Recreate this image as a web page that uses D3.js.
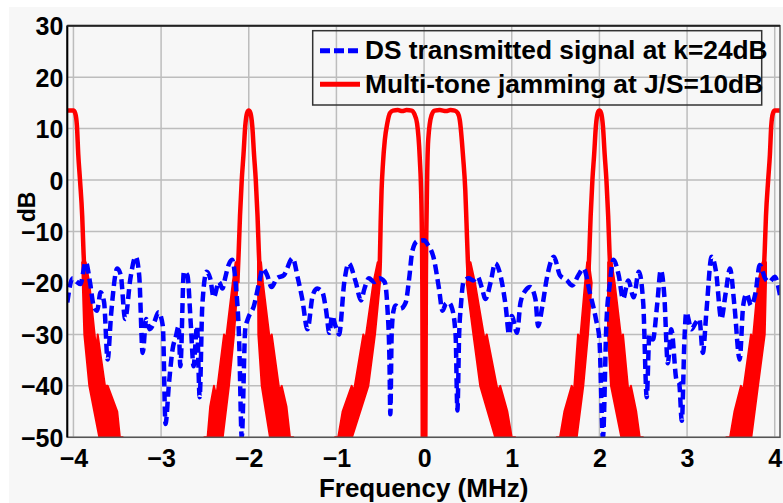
<!DOCTYPE html>
<html>
<head>
<meta charset="utf-8">
<script src="https://cdn.jsdelivr.net/npm/d3@7"></script>
<style>
  html, body { margin: 0; padding: 0; background: #ffffff; }
  svg { display: block; }
  text { font-family: "Liberation Sans", Arial, sans-serif; font-weight: bold; fill: #000; }
</style>
</head>
<body>
<svg id="chart" width="783" height="503"></svg>
<script>
// ---------------- DATA ----------------
const xTicks = [-4, -3, -2, -1, 0, 1, 2, 3, 4];
const yTicks = [-50, -40, -30, -20, -10, 0, 10, 20, 30];
const xLabel = "Frequency (MHz)";
const yLabel = "dB";
const seriesNames = ["DS transmitted signal at k=24dB", "Multi-tone jamming at J/S=10dB"];
const seriesColors = ["#0000ff", "#ff0000"];

// DS transmitted signal — [frequency MHz, dB]
const dsSignal = [
  [-4.07,-23.8],[-4.01,-19.1],[-3.96,-19.8],[-3.92,-20.2],[-3.86,-15.9],[-3.81,-20],[-3.77,-24.4],
  [-3.73,-25.4],[-3.69,-21.8],[-3.65,-23.8],[-3.61,-34.9],[-3.57,-26],[-3.50,-17.2],[-3.46,-18.5],
  [-3.41,-27],[-3.35,-19.1],[-3.29,-14.9],[-3.25,-18.5],[-3.21,-33.6],[-3.17,-27],[-3.13,-29],
  [-3.08,-27.7],[-3.03,-25.7],[-2.98,-28.4],[-2.95,-47.4],[-2.91,-39.5],[-2.87,-33],[-2.83,-30.3],
  [-2.80,-28.4],[-2.78,-36.2],[-2.74,-17.8],[-2.70,-18.5],[-2.66,-28.4],[-2.63,-36.2],[-2.59,-28.4],
  [-2.56,-42.2],[-2.53,-24.4],[-2.48,-17.8],[-2.44,-19.1],[-2.40,-22.8],[-2.34,-19.8],[-2.30,-21.1],
  [-2.27,-19.1],[-2.23,-16.5],[-2.19,-15.5],[-2.15,-20],[-2.11,-31],[-2.08,-50],[-2.04,-29],
  [-2.01,-27],[-1.94,-24.4],[-1.88,-19.8],[-1.84,-17.2],[-1.79,-18.5],[-1.74,-20.8],[-1.68,-19.1],
  [-1.60,-18.5],[-1.50,-15.2],[-1.44,-19.1],[-1.39,-23.1],[-1.33,-29],[-1.27,-22.4],[-1.22,-21.1],
  [-1.16,-21.8],[-1.12,-25.1],[-1.08,-29.7],[-1.05,-26.4],[-1.01,-28.4],[-0.97,-30],[-0.91,-19.8],
  [-0.86,-16.2],[-0.78,-19.8],[-0.72,-23.4],[-0.68,-21.1],[-0.63,-19.1],[-0.57,-19.8],[-0.51,-19.1],
  [-0.45,-19.8],[-0.42,-24.4],[-0.395,-35],[-0.385,-45.5],[-0.37,-30],[-0.35,-25.5],[-0.325,-24.4],
  [-0.27,-25],[-0.21,-23.8],[-0.17,-19.1],[-0.135,-13.9],[-0.08,-11.9],[0.0,-11.7],[0.04,-12.5],
  [0.11,-15.2],[0.17,-21.1],[0.21,-25.4],[0.25,-24],[0.28,-23.8],[0.32,-25],[0.36,-30.3],[0.38,-44.8],
  [0.40,-30],[0.42,-24.4],[0.45,-19.8],[0.51,-19.1],[0.56,-19.5],[0.61,-18.8],[0.66,-21],[0.70,-23.1],
  [0.76,-19.8],[0.81,-16.2],[0.86,-17.8],[0.93,-24.4],[0.97,-30],[1.0,-26.4],[1.06,-29.7],[1.10,-23.8],
  [1.16,-21.4],[1.21,-20.8],[1.27,-23.1],[1.30,-28.4],[1.35,-24.4],[1.40,-19.1],[1.48,-14.9],[1.55,-18.5],
  [1.63,-19.5],[1.69,-20.5],[1.76,-18.5],[1.82,-17.2],[1.89,-21.8],[1.96,-27],[2.0,-31],[2.04,-50],
  [2.08,-27.7],[2.12,-20],[2.16,-15.5],[2.22,-18.5],[2.27,-23.1],[2.33,-19.5],[2.39,-22.8],[2.45,-17.8],
  [2.50,-24],[2.54,-42.2],[2.57,-30],[2.61,-31],[2.66,-24],[2.70,-17.5],[2.74,-22.4],[2.78,-35.6],
  [2.82,-29],[2.88,-38.9],[2.91,-39.5],[2.94,-46.8],[2.97,-31],[2.99,-25.7],[3.05,-29],[3.10,-27.7],
  [3.14,-27],[3.18,-33.6],[3.22,-25.7],[3.28,-14.9],[3.33,-17.8],[3.39,-27],[3.44,-22],[3.49,-17.2],
  [3.54,-24.4],[3.60,-34.9],[3.64,-24.4],[3.68,-22.1],[3.73,-24.4],[3.78,-22],[3.83,-16.5],[3.89,-19.1],
  [3.94,-19.8],[4.00,-18.8],[4.06,-22.4]
];

// Multi-tone jamming main lobes — [frequency MHz, dB]; null separates lobes
const jamLine = [
  [-4.09,13.5],[-4.0,13.5],[-3.98,13],[-3.96,10.5],[-3.945,5],[-3.925,0],[-3.90,-7],[-3.885,-14],[-3.87,-20],
  null,
  [-2.13,-20],[-2.115,-14],[-2.10,-7],[-2.08,0],[-2.06,5],[-2.04,10.5],[-2.02,13],[-2.0,13.5],
  [-1.98,13],[-1.96,10.5],[-1.94,5],[-1.92,0],[-1.90,-7],[-1.885,-14],[-1.87,-20],
  null,
  [-0.52,-20],[-0.505,-16],[-0.495,-8],[-0.485,-2],[-0.47,3],[-0.448,7.8],[-0.42,11],[-0.39,13],
  [-0.355,13.5],[-0.30,13.6],[-0.25,13.4],[-0.20,13.6],[-0.14,13.5],[-0.11,12.8],[-0.08,11],[-0.05,4.5],
  [-0.03,-5],[-0.02,-21],[-0.012,-60],[0.012,-60],[0.02,-21],[0.03,-5],[0.047,7.8],[0.085,12.6],[0.12,13.5],
  [0.18,13.6],[0.25,13.4],[0.30,13.6],[0.35,13.5],[0.385,13],[0.407,11.7],[0.445,4.5],[0.47,-2],[0.484,-8.4],
  [0.5,-16],[0.515,-20],
  null,
  [1.87,-20],[1.885,-14],[1.90,-7],[1.92,0],[1.94,5],[1.96,10.5],[1.98,13],[2.0,13.5],
  [2.02,13],[2.04,10.5],[2.06,5],[2.08,0],[2.10,-7],[2.115,-14],[2.13,-20],
  null,
  [3.87,-20],[3.885,-14],[3.90,-7],[3.925,0],[3.945,5],[3.96,10.5],[3.98,13],[4.0,13.5],[4.09,13.5]
];

// Multi-tone jamming sidelobe skirts (outline of the dense sidelobe region) — [frequency MHz, dB]
const jamSkirts = [
  [[-3.90,-16],[-3.894,-20],[-3.876,-30],[-3.819,-40],[-3.705,-50],[-3.70,-55],[-3.43,-55],[-3.438,-50],[-3.47,-50],[-3.50,-45],[-3.609,-40],[-3.64,-40],[-3.723,-30],[-3.74,-33],[-3.819,-20],[-3.86,-16]],
  [[-2.12,-16],[-2.126,-20],[-2.168,-30],[-2.226,-40],[-2.297,-50],[-2.30,-55],[-2.51,-55],[-2.507,-50],[-2.47,-50],[-2.44,-44],[-2.397,-40],[-2.37,-42],[-2.282,-30],[-2.26,-31],[-2.183,-20],[-2.15,-16]],
  [[-1.895,-16],[-1.894,-20],[-1.891,-30],[-1.852,-40],[-1.758,-50],[-1.75,-55],[-1.49,-55],[-1.492,-50],[-1.53,-50],[-1.57,-44],[-1.624,-40],[-1.65,-41],[-1.738,-30],[-1.76,-31],[-1.838,-20],[-1.86,-16]],
  [[-0.50,-16],[-0.503,-20],[-0.560,-30],[-0.636,-40],[-0.822,-50],[-0.83,-55],[-1.02,-55],[-1.016,-50],[-0.98,-50],[-0.93,-45],[-0.826,-40],[-0.80,-41],[-0.693,-30],[-0.67,-31],[-0.579,-20],[-0.53,-16]],
  [[0.50,-16],[0.486,-20],[0.562,-30],[0.640,-40],[0.811,-50],[0.81,-55],[1.04,-55],[1.039,-50],[1.00,-50],[0.95,-45],[0.868,-40],[0.84,-41],[0.715,-30],[0.69,-31],[0.581,-20],[0.53,-16]],
  [[1.88,-16],[1.912,-20],[1.870,-30],[1.816,-40],[1.741,-50],[1.74,-55],[1.51,-55],[1.513,-50],[1.55,-50],[1.60,-45],[1.684,-40],[1.71,-41],[1.756,-30],[1.78,-31],[1.836,-20],[1.86,-16]],
  [[2.10,-16],[2.098,-20],[2.098,-30],[2.132,-40],[2.250,-50],[2.25,-55],[2.50,-55],[2.497,-50],[2.46,-50],[2.42,-45],[2.360,-40],[2.33,-41],[2.269,-30],[2.25,-31],[2.174,-20],[2.14,-16]],
  [[3.90,-16],[3.900,-20],[3.886,-30],[3.809,-40],[3.733,-50],[3.73,-55],[3.44,-55],[3.448,-50],[3.49,-50],[3.54,-45],[3.615,-40],[3.64,-41],[3.729,-30],[3.75,-31],[3.809,-20],[3.86,-16]]
];

// ---------------- CHART ----------------
const svg = d3.select("#chart");
const W = 783, H = 503;
const plot = { left: 67.3, right: 780, top: 25.7, bottom: 437.3 };

svg.append("rect").attr("x", 0).attr("y", 0).attr("width", W).attr("height", H).attr("fill", "#ffffff");
svg.append("rect").attr("x", 9).attr("y", 7).attr("width", W - 9).attr("height", H - 7).attr("fill", "#f7f7f7");

const x = d3.scaleLinear().domain([-4.07, 4.06]).range([plot.left, plot.right]);
const y = d3.scaleLinear().domain([-50, 30]).range([plot.bottom, plot.top]);

svg.append("defs").append("clipPath").attr("id", "clip")
  .append("rect").attr("x", plot.left).attr("y", plot.top)
  .attr("width", plot.right - plot.left).attr("height", plot.bottom - plot.top);

// grid
const grid = svg.append("g");
grid.selectAll("line.gx").data(xTicks).join("line")
  .attr("x1", d => x(d)).attr("x2", d => x(d))
  .attr("y1", plot.top).attr("y2", plot.bottom)
  .attr("stroke", "#bdbdbd").attr("stroke-width", 1.5);
grid.selectAll("line.gy").data(yTicks).join("line")
  .attr("x1", plot.left).attr("x2", plot.right)
  .attr("y1", d => y(d)).attr("y2", d => y(d))
  .attr("stroke", "#bdbdbd").attr("stroke-width", 1.5);

// data
const dataG = svg.append("g").attr("clip-path", "url(#clip)");

const skirtLine = d3.line().x(d => x(d[0])).y(d => y(d[1]));
dataG.selectAll("path.skirt").data(jamSkirts).join("path")
  .attr("d", d => skirtLine(d) + "Z")
  .attr("fill", seriesColors[1]).attr("stroke", seriesColors[1]).attr("stroke-width", 2)
  .attr("stroke-linejoin", "round");

const lineGen = d3.line().defined(d => d !== null)
  .x(d => x(d[0])).y(d => y(d[1])).curve(d3.curveMonotoneX);
dataG.append("path").datum(jamLine)
  .attr("d", lineGen)
  .attr("fill", "none").attr("stroke", seriesColors[1]).attr("stroke-width", 4.5)
  .attr("stroke-linejoin", "round");

dataG.append("path").datum(dsSignal)
  .attr("d", lineGen)
  .attr("fill", "none").attr("stroke", seriesColors[0]).attr("stroke-width", 4.5)
  .attr("stroke-dasharray", "10,5").attr("stroke-linejoin", "round");

// frame
svg.append("rect").attr("x", plot.left).attr("y", plot.top)
  .attr("width", plot.right - plot.left).attr("height", plot.bottom - plot.top)
  .attr("fill", "none").attr("stroke", "#555").attr("stroke-width", 1.5);
svg.append("line").attr("x1", plot.left).attr("x2", plot.left).attr("y1", plot.top).attr("y2", plot.bottom)
  .attr("stroke", "#000").attr("stroke-width", 2);
svg.append("line").attr("x1", plot.left).attr("x2", plot.right).attr("y1", plot.top).attr("y2", plot.top)
  .attr("stroke", "#222").attr("stroke-width", 2);

// axes (labels via d3 axis)
const xAxis = d3.axisBottom(x).tickValues(xTicks).tickSize(0).tickPadding(0).tickFormat(d3.format("d"));
const gx = svg.append("g").attr("transform", `translate(0,${plot.bottom})`).call(xAxis);
gx.select(".domain").remove();
gx.selectAll("text").attr("font-size", 25).attr("y", 30).attr("dy", 0)
  .style("font-family", "'Liberation Sans', Arial, sans-serif").style("font-weight", "bold").attr("fill", "#000");

const yAxis = d3.axisLeft(y).tickValues(yTicks).tickSize(0).tickPadding(0).tickFormat(d3.format("d"));
const gy = svg.append("g").attr("transform", `translate(${plot.left - 4},0)`).call(yAxis);
gy.select(".domain").remove();
gy.selectAll("text").attr("font-size", 25).attr("dy", "0.36em")
  .style("font-family", "'Liberation Sans', Arial, sans-serif").style("font-weight", "bold").attr("fill", "#000");

svg.append("text").attr("x", (plot.left + plot.right) / 2).attr("y", 497)
  .attr("text-anchor", "middle").attr("font-size", 26).text(xLabel);
svg.append("text").attr("transform", "translate(35,207) rotate(-90)")
  .attr("text-anchor", "middle").attr("font-size", 23).text(yLabel);

// legend
const lg = svg.append("g");
lg.append("rect").attr("x", 312.7).attr("y", 30.7).attr("width", 449).attr("height", 74.3)
  .attr("fill", "none").attr("stroke", "#333").attr("stroke-width", 1.5);
const legendRows = [
  { name: seriesNames[0], color: seriesColors[0], dash: "10,4", ly: 50.7, ty: 58.5 },
  { name: seriesNames[1], color: seriesColors[1], dash: null, ly: 84.3, ty: 93 }
];
legendRows.forEach(r => {
  lg.append("line").attr("x1", 320).attr("x2", 360).attr("y1", r.ly).attr("y2", r.ly)
    .attr("stroke", r.color).attr("stroke-width", 5)
    .attr("stroke-dasharray", r.dash);
  lg.append("text").attr("x", 365).attr("y", r.ty).attr("font-size", 26.3).text(r.name);
});
</script>
</body>
</html>
